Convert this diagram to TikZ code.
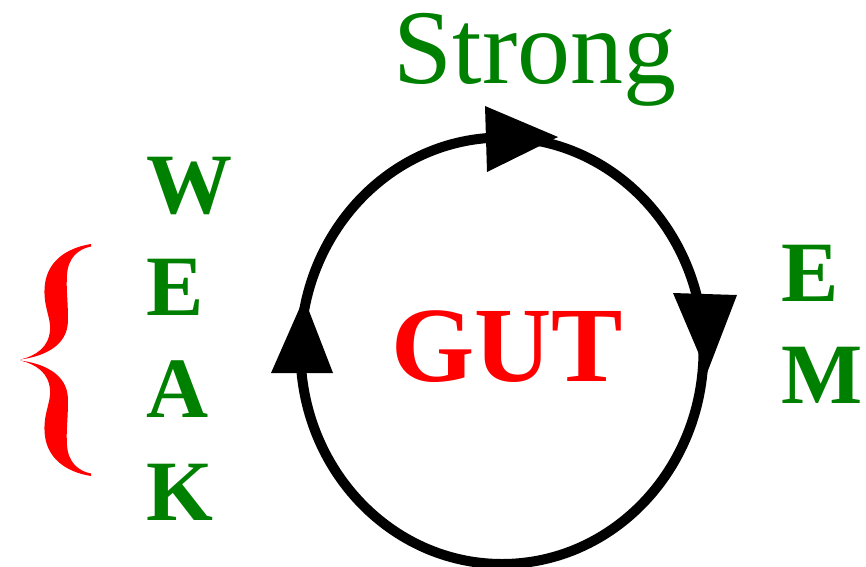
\documentclass[tikz,border=0pt]{standalone}
\usepackage{fontspec}
\setmainfont{Liberation Serif}
\definecolor{lblgreen}{RGB}{0,128,0}
\definecolor{gutred}{RGB}{255,0,0}
\begin{document}
\begin{tikzpicture}[x=1pt,y=-1pt,
  letter/.style={text=lblgreen, font=\fontsize{86}{86}\selectfont\bfseries, inner sep=0pt, anchor=base west},
  gutlabel/.style={text=gutred, font=\fontsize{107}{107}\selectfont\bfseries, inner sep=0pt, anchor=base west},
  stronglabel/.style={text=lblgreen, font=\fontsize{106}{106}\selectfont, inner sep=0pt, anchor=base west},
  cycleline/.style={draw=black, line width=10pt},
  headtri/.style={fill=black},
  bracefill/.style={fill=gutred}]
\useasboundingbox (0,0) rectangle (866,566);
% cycle
\coordinate (c) at (502,350.75);
\draw[cycleline] (c) ellipse [x radius=201.5pt, y radius=213.25pt];
% arrow heads
\fill[headtri] (485,106) -- (487,172) -- (558,137) -- cycle;
\fill[headtri] (673,293) -- (737,295) -- (707,373) -- cycle;
\fill[headtri] (271,373) -- (333,373) -- (304,298) -- cycle;
% labels
\node[stronglabel] (strong) at (393.5,83) {Strong};
\node[gutlabel] (gut) at (391,381) {GUT};
\node[letter] (w) at (146,213) {W};
\node[letter] (e1) at (146,315) {E};
\node[letter] (a) at (146,417) {A};
\node[letter] (k) at (146,520) {K};
\node[letter] (e2) at (781.5,301) {E};
\node[letter] (m) at (781.5,403) {M};
% brace
\fill[bracefill] (91,244) .. controls (66,248) and (45,262) .. (44.5,290)
  .. controls (44,308) and (51,318) .. (50,330)
  .. controls (49,347) and (36,356) .. (20,359.5)
  .. controls (40,357) and (68,348) .. (68,320)
  .. controls (68,300) and (66,290) .. (67,275)
  .. controls (68,258) and (78,249) .. (91,246.5) -- cycle;
\fill[bracefill] (91,476) .. controls (66,472) and (45,458) .. (44.5,430)
  .. controls (44,412) and (51,402) .. (50,390)
  .. controls (49,373) and (36,364) .. (20,360.5)
  .. controls (40,363) and (68,372) .. (68,400)
  .. controls (68,420) and (66,430) .. (67,445)
  .. controls (68,462) and (78,471) .. (91,473.5) -- cycle;
\end{tikzpicture}
\end{document}
